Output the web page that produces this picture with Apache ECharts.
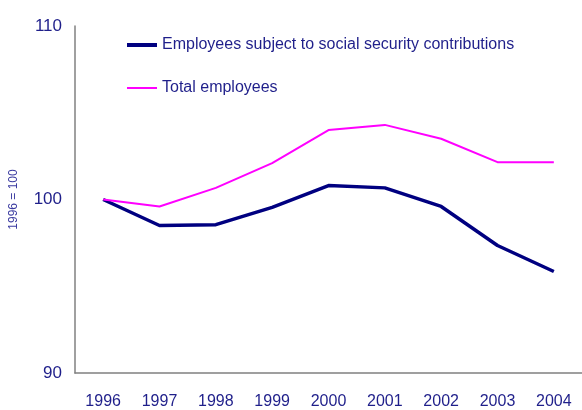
<!DOCTYPE html>
<html>
<head>
<meta charset="utf-8">
<script src="https://cdn.jsdelivr.net/npm/echarts@6/dist/echarts.min.js"></script>
<style>
  html, body { margin: 0; padding: 0; background: #fff; }
</style>
</head>
<body>
<div id="main" style="width:582px;height:410px;"></div>
<script>
const years = ['1996', '1997', '1998', '1999', '2000', '2001', '2002', '2003', '2004']
const subjectToSocialSecurity = [100, 98.5, 98.55, 99.55, 100.8, 100.67, 99.6, 97.35, 95.85]
const totalEmployees = [100, 99.6, 100.67, 102.1, 104.0, 104.3, 103.5, 102.15, 102.15]

const textColor = '#1f1f8a'
const chart = echarts.init(document.getElementById('main'))

const option = {
  animation: false,
  textStyle: { fontFamily: 'Liberation Sans' },
  legend: {
    orient: 'vertical',
    left: 122,
    top: 32,
    itemWidth: 30,
    itemHeight: 12,
    itemGap: 27,
    textStyle: { color: textColor, fontSize: 16, fontFamily: 'Liberation Sans' },
    data: [
      { name: 'Employees subject to social security contributions', icon: 'path://M0,0 L30,0 L30,4 L0,4 Z' },
      { name: 'Total employees', icon: 'path://M0,0 L30,0 L30,2 L0,2 Z' },
    ],
  },
  grid: { left: 73, right: -7, top: 26, bottom: 36 },
  xAxis: {
    type: 'category',
    data: years,
    boundaryGap: true,
    axisLine: { lineStyle: { color: '#808080', width: 1.5 } },
    axisTick: { show: false },
    axisLabel: { color: textColor, fontSize: 16, margin: 21 },
  },
  yAxis: {
    type: 'value',
    min: 90,
    max: 110,
    interval: 10,
    name: '1996 = 100',
    nameLocation: 'middle',
    nameGap: 55,
    nameTextStyle: { color: '#3a3aa0', fontSize: 12 },
    axisLine: { show: true, lineStyle: { color: '#808080', width: 1.5 } },
    axisTick: { show: false },
    splitLine: { show: false },
    axisLabel: { color: textColor, fontSize: 17, margin: 13 },
  },
  series: [
    {
      name: 'Employees subject to social security contributions',
      type: 'line',
      data: subjectToSocialSecurity,
      symbol: 'none',
      color: '#000080',
      lineStyle: { color: '#000080', width: 3.5 },
    },
    {
      name: 'Total employees',
      type: 'line',
      data: totalEmployees,
      symbol: 'none',
      color: '#ff00ff',
      lineStyle: { color: '#ff00ff', width: 2 },
    },
  ],
}

chart.setOption(option)
</script>
</body>
</html>
